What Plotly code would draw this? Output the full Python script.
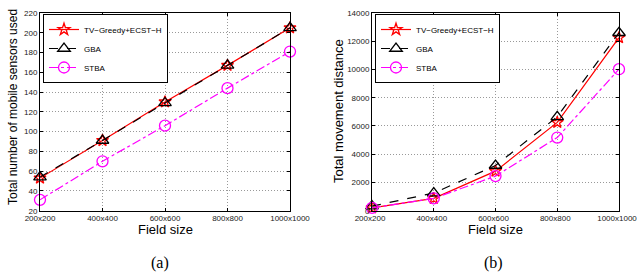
import plotly.graph_objects as go

categories = ["200x200", "400x400", "600x600", "800x800", "1000x1000"]
series_names = ["TV\u2212Greedy+ECST\u2212H", "GBA", "STBA"]

sensors_tv = [53, 91, 130, 167, 205]
sensors_gba = [54, 91, 129, 167, 205]
sensors_stba = [31, 70, 106, 144, 181]

dist_tv = [200, 870, 2800, 6250, 12250]
dist_gba = [320, 1250, 3200, 6650, 12600]
dist_stba = [200, 870, 2450, 5180, 10020]

left_ticks = list(range(20, 221, 20))
right_ticks = list(range(0, 14001, 2000))

x_title = "Field size"
y_title_a = "Total number of mobile sensors used"
y_title_b = "Total movement distance"

xs = list(range(len(categories)))

styles = [
    dict(color="#ff0000", dash="solid", symbol="star-open", size=9),
    dict(color="#000000", dash="dash", symbol="triangle-up-open", size=11),
    dict(color="#ff00ff", dash="dashdot", symbol="circle-open", size=11),
]

fig = go.Figure()

for data, axes, leg in [
    ([sensors_tv, sensors_gba, sensors_stba], ("x", "y"), "legend"),
    ([dist_tv, dist_gba, dist_stba], ("x2", "y2"), "legend2"),
]:
    for name, vals, st in zip(series_names, data, styles):
        fig.add_trace(go.Scatter(
            x=xs, y=vals, name=name, mode="lines+markers",
            xaxis=axes[0], yaxis=axes[1], legend=leg,
            line=dict(color=st["color"], dash=st["dash"], width=1.2),
            marker=dict(symbol=st["symbol"], size=st["size"],
                        color=st["color"], line=dict(width=1.3, color=st["color"])),
            cliponaxis=False,
        ))

W, H = 639, 276
font_tick = dict(family="Liberation Sans, Arial", size=8, color="#222")
font_title = dict(family="Liberation Sans, Arial", size=13, color="#000")
font_title_sm = dict(family="Liberation Sans, Arial", size=12, color="#000")
grid_dash = "1px,2px"

def xaxis_cfg(x0, x1, shift=0):
    return dict(
        domain=[x0 / W, x1 / W], range=[0, 4], automargin=False,
        tickvals=xs, ticktext=categories, tickfont=font_tick,
        ticklabeloverflow="allow", ticklabelshift=shift,
        showline=True, linecolor="black", linewidth=1, mirror="ticks",
        ticks="inside", ticklen=3, tickcolor="black",
        showgrid=True, gridcolor="#999", griddash=grid_dash, gridwidth=1,
        zeroline=False,
    )

def yaxis_cfg(rng, ticks):
    return dict(
        domain=[1 - 210.7 / H, 1 - 13 / H], range=rng, automargin=False,
        tickvals=ticks, tickfont=font_tick, tickformat="d",
        showline=True, linecolor="black", linewidth=1, mirror="ticks",
        ticks="inside", ticklen=3, tickcolor="black",
        showgrid=True, gridcolor="#999", griddash=grid_dash, gridwidth=1,
        zeroline=False,
    )

legend_common = dict(
    bgcolor="white", bordercolor="black", borderwidth=1,
    font=dict(family="Liberation Sans, Arial", size=8, color="#000"),
    xanchor="left", yanchor="top", itemwidth=30, tracegroupgap=0,
)

def ann(text, x, y, font, angle=0):
    return dict(text=text, x=x / W, y=1 - y / H, xref="paper", yref="paper",
                showarrow=False, font=font, textangle=angle,
                xanchor="center", yanchor="middle", borderpad=0)

cap_font = dict(family="Liberation Serif, Times New Roman", size=16, color="#000")

fig.update_layout(
    width=W, height=H,
    margin=dict(l=0, r=0, t=0, b=0, autoexpand=False),
    paper_bgcolor="white", plot_bgcolor="white",
    xaxis=dict(**xaxis_cfg(40, 290), anchor="y"),
    yaxis=dict(**yaxis_cfg([20, 220], left_ticks), anchor="x"),
    xaxis2=dict(**xaxis_cfg(372, 619, shift=-2), anchor="y2"),
    yaxis2=dict(**yaxis_cfg([0, 14000], right_ticks), anchor="x2"),
    legend=dict(**legend_common, x=43 / W, y=1 - 14 / H),
    legend2=dict(**legend_common, x=375 / W, y=1 - 14 / H),
    annotations=[
        ann(x_title, 165, 229, font_title),
        ann(x_title, 495, 229, font_title),
        ann(y_title_a, 13, 107, font_title_sm, -90),
        ann(y_title_b, 338, 111, font_title, -90),
        ann("(a)", 160, 263, cap_font),
        ann("(b)", 494, 263, cap_font),
    ],
)

fig.write_html("out.html", config={"displayModeBar": False},
               post_script="document.body.style.margin='0';")
